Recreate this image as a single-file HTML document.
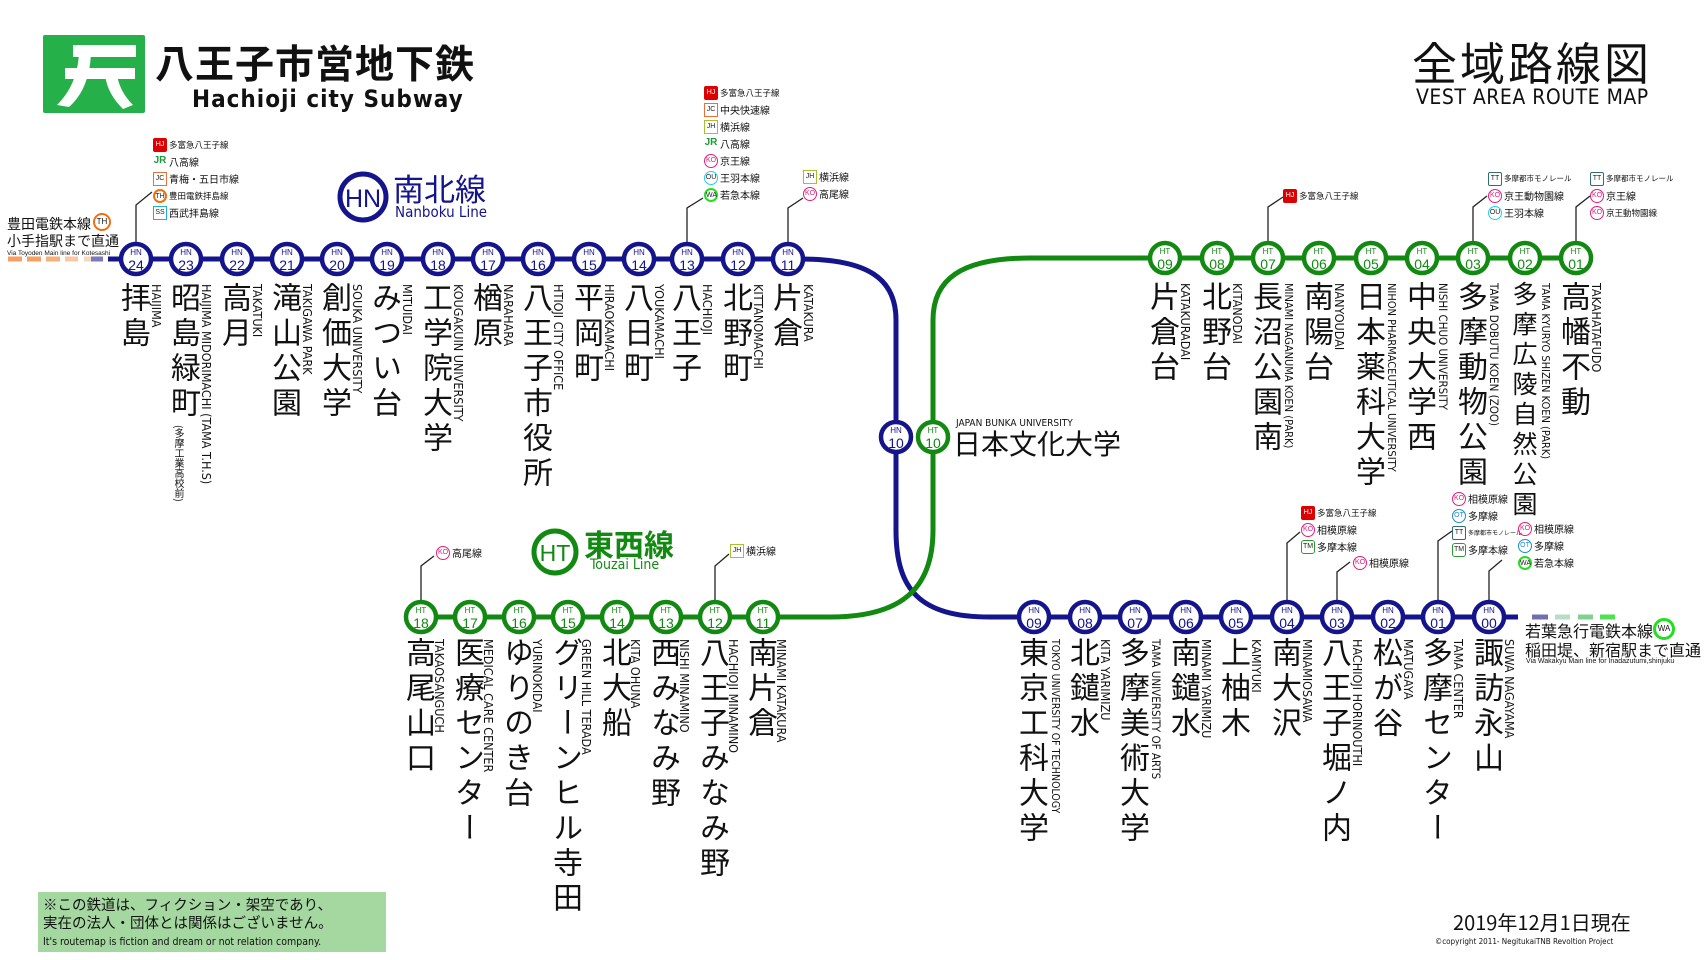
<!DOCTYPE html>
<html><head><meta charset="utf-8">
<style>
*{margin:0;padding:0;box-sizing:border-box}
body{width:1707px;height:960px;background:#fff;position:relative;overflow:hidden;font-family:"Liberation Sans","Noto Sans CJK JP",sans-serif;color:#111}
.a{position:absolute;white-space:nowrap}
.jp{position:absolute;writing-mode:vertical-rl;font-size:30px;line-height:32px;width:32px;letter-spacing:5px;font-family:"Noto Sans CJK JP",sans-serif;color:#111}
.en{position:absolute;writing-mode:vertical-rl;font-size:12.5px;line-height:15px;width:15px;font-family:"DejaVu Sans Condensed","Liberation Sans Narrow",sans-serif;color:#111}
.tr{position:absolute;font-size:10px;line-height:12px;font-family:"Noto Sans CJK JP",sans-serif;white-space:nowrap}
.tr div{height:17px;display:flex;align-items:center;gap:2px}
.b{display:inline-block;width:14px;height:14px;font-size:7px;line-height:11px;text-align:center;font-family:"Liberation Sans",sans-serif;border:1.5px solid;color:#222;flex:none}
.hj{background:#d00;border-color:#d00;color:#fff;border-radius:2px}
.jc{border-color:#e8703a}
.jh{border-color:#a8c030}
.ko{border-color:#e0207f;border-radius:50%;color:#e0207f}
.ou{border-color:#20d0f0;border-radius:50%}
.wa{border-color:#20e020;border-radius:50%;border-width:2px}
.tt{border-color:#336e6a;border-radius:2px}
.tm{border-color:#2a9a2a;border-radius:3px}
.ot{border-color:#1e8ad0;border-radius:50%;color:#1e8ad0}
.th{border-color:#f07010;border-radius:50%;border-width:2px}
.ss{border-color:#20b0d0}
.jr{border:none;color:#1a9a3a;font-weight:bold;font-size:10px}
.s{font-size:8.5px}
</style></head><body>

<!-- header -->
<div class="a" style="left:43px;top:35px;width:102px;height:78px;background:#26b04a;border-radius:2px"></div>
<svg class="a" style="left:43px;top:35px" width="102" height="78"><path d="M30 10 H93 V22 H30Z M22 33 H92 V44 H22Z" fill="#fff"/><path d="M36 14 L48 14 C48 40 40 60 26 72 L14 70 C28 56 36 38 36 14Z M62 40 L74 40 C76 52 82 62 90 70 L80 74 C70 64 64 54 62 40Z" fill="#fff"/></svg>
<div class="a" style="left:155px;top:34px;font-size:39px;font-weight:bold;font-family:'Noto Sans CJK JP',sans-serif;letter-spacing:1px">八王子市営地下鉄</div>
<div class="a" style="left:192px;top:85px;font-size:24px;font-weight:bold;font-family:'DejaVu Sans Condensed',sans-serif;letter-spacing:1px">Hachioji city Subway</div>
<div class="a" style="left:1412px;top:28px;font-size:45px;font-family:'Noto Sans CJK JP',sans-serif;letter-spacing:3px">全域路線図</div>
<div class="a" style="left:1416px;top:85px;font-size:21px;font-family:'Liberation Sans Narrow','DejaVu Sans Condensed',sans-serif;letter-spacing:0.5px">VEST AREA ROUTE MAP</div>

<svg class="a" style="left:0;top:0" width="1707" height="960">
<circle cx="363" cy="197" r="23" fill="#fff" stroke="#14148c" stroke-width="5"/>
<text x="363" y="207" font-size="25" text-anchor="middle" fill="#14148c" font-family="Liberation Sans">HN</text>
<circle cx="555" cy="552" r="21" fill="#fff" stroke="#128a12" stroke-width="5"/>
<text x="555" y="561" font-size="23" text-anchor="middle" fill="#128a12" font-family="Liberation Sans">HT</text>

<g stroke-width="5">
<line x1="8" y1="259" x2="22" y2="259" stroke="#f5a060"/><line x1="27" y1="259" x2="41" y2="259" stroke="#f5a060"/><line x1="46" y1="259" x2="60" y2="259" stroke="#f7b07a"/><line x1="65" y1="259" x2="78" y2="259" stroke="#f8c8a0"/><line x1="84" y1="259" x2="96" y2="259" stroke="#fad8c0"/><line x1="91" y1="259" x2="103" y2="259" stroke="#7a7aba"/><line x1="108" y1="259" x2="120" y2="259" stroke="#14148c"/>
<line x1="1505" y1="617" x2="1518" y2="617" stroke="#14148c"/><line x1="1532" y1="617" x2="1548" y2="617" stroke="#7070b0"/><line x1="1555" y1="617" x2="1570" y2="617" stroke="#b8dcc8"/><line x1="1578" y1="617" x2="1593" y2="617" stroke="#80d090"/><line x1="1600" y1="617" x2="1615" y2="617" stroke="#50e050"/>
</g>
<path d="M120 259 H800 C870 259 896 280 896 320 V530 C896 590 920 617 990 617 H1489" fill="none" stroke="#14148c" stroke-width="5"/>
<path d="M1576 258 H1030 C960 258 933 280 933 320 V530 C933 590 900 617 830 617 H421" fill="none" stroke="#128a12" stroke-width="5"/>

<g stroke="#222" stroke-width="1.3" fill="none">
<path d="M136 243 V205 L152 192"/>
<path d="M687 243 V208 L703 198"/>
<path d="M788 243 V208 L803 198"/>
<path d="M1268 242 V207 L1283 197"/>
<path d="M1473 242 V207 L1487 196"/>
<path d="M1576 242 V207 L1590 196"/>
<path d="M421 601 V566 L434 556"/>
<path d="M715 601 V566 L729 554"/>
<path d="M1287 601 V543 L1300 532"/>
<path d="M1337 601 V572 L1350 562"/>
<path d="M1438 601 V541 L1452 531"/>
<path d="M1489 601 V571 L1502 560"/>
</g>

<g font-family="Liberation Sans" text-anchor="middle">
<g fill="#fff" stroke="#14148c" stroke-width="4.5">
<circle cx="136" cy="259" r="15"/><circle cx="186" cy="259" r="15"/><circle cx="237" cy="259" r="15"/><circle cx="287" cy="259" r="15"/><circle cx="337" cy="259" r="15"/><circle cx="387" cy="259" r="15"/><circle cx="438" cy="259" r="15"/><circle cx="488" cy="259" r="15"/><circle cx="538" cy="259" r="15"/><circle cx="589" cy="259" r="15"/><circle cx="639" cy="259" r="15"/><circle cx="687" cy="259" r="15"/><circle cx="738" cy="259" r="15"/><circle cx="788" cy="259" r="15"/>
<circle cx="896" cy="437" r="15"/>
<circle cx="1034" cy="617" r="15"/><circle cx="1085" cy="617" r="15"/><circle cx="1135" cy="617" r="15"/><circle cx="1186" cy="617" r="15"/><circle cx="1236" cy="617" r="15"/><circle cx="1287" cy="617" r="15"/><circle cx="1337" cy="617" r="15"/><circle cx="1388" cy="617" r="15"/><circle cx="1438" cy="617" r="15"/><circle cx="1489" cy="617" r="15"/>
</g>
<g fill="#fff" stroke="#128a12" stroke-width="4.5">
<circle cx="933" cy="437" r="15"/>
<circle cx="1165" cy="258" r="15"/><circle cx="1217" cy="258" r="15"/><circle cx="1268" cy="258" r="15"/><circle cx="1319" cy="258" r="15"/><circle cx="1371" cy="258" r="15"/><circle cx="1422" cy="258" r="15"/><circle cx="1473" cy="258" r="15"/><circle cx="1525" cy="258" r="15"/><circle cx="1576" cy="258" r="15"/>
<circle cx="421" cy="617" r="15"/><circle cx="470" cy="617" r="15"/><circle cx="519" cy="617" r="15"/><circle cx="568" cy="617" r="15"/><circle cx="617" cy="617" r="15"/><circle cx="666" cy="617" r="15"/><circle cx="715" cy="617" r="15"/><circle cx="763" cy="617" r="15"/>
</g>
<g fill="#14148c">
<g font-size="8"><text x="136" y="255">HN</text><text x="186" y="255">HN</text><text x="237" y="255">HN</text><text x="287" y="255">HN</text><text x="337" y="255">HN</text><text x="387" y="255">HN</text><text x="438" y="255">HN</text><text x="488" y="255">HN</text><text x="538" y="255">HN</text><text x="589" y="255">HN</text><text x="639" y="255">HN</text><text x="687" y="255">HN</text><text x="738" y="255">HN</text><text x="788" y="255">HN</text><text x="896" y="433">HN</text>
<text x="1034" y="613">HN</text><text x="1085" y="613">HN</text><text x="1135" y="613">HN</text><text x="1186" y="613">HN</text><text x="1236" y="613">HN</text><text x="1287" y="613">HN</text><text x="1337" y="613">HN</text><text x="1388" y="613">HN</text><text x="1438" y="613">HN</text><text x="1489" y="613">HN</text></g>
<g font-size="14"><text x="136" y="270">24</text><text x="186" y="270">23</text><text x="237" y="270">22</text><text x="287" y="270">21</text><text x="337" y="270">20</text><text x="387" y="270">19</text><text x="438" y="270">18</text><text x="488" y="270">17</text><text x="538" y="270">16</text><text x="589" y="270">15</text><text x="639" y="270">14</text><text x="687" y="270">13</text><text x="738" y="270">12</text><text x="788" y="270">11</text><text x="896" y="448">10</text>
<text x="1034" y="628">09</text><text x="1085" y="628">08</text><text x="1135" y="628">07</text><text x="1186" y="628">06</text><text x="1236" y="628">05</text><text x="1287" y="628">04</text><text x="1337" y="628">03</text><text x="1388" y="628">02</text><text x="1438" y="628">01</text><text x="1489" y="628">00</text></g>
</g>
<g fill="#128a12">
<g font-size="8"><text x="933" y="433">HT</text><text x="1165" y="254">HT</text><text x="1217" y="254">HT</text><text x="1268" y="254">HT</text><text x="1319" y="254">HT</text><text x="1371" y="254">HT</text><text x="1422" y="254">HT</text><text x="1473" y="254">HT</text><text x="1525" y="254">HT</text><text x="1576" y="254">HT</text>
<text x="421" y="613">HT</text><text x="470" y="613">HT</text><text x="519" y="613">HT</text><text x="568" y="613">HT</text><text x="617" y="613">HT</text><text x="666" y="613">HT</text><text x="715" y="613">HT</text><text x="763" y="613">HT</text></g>
<g font-size="14"><text x="933" y="448">10</text><text x="1165" y="269">09</text><text x="1217" y="269">08</text><text x="1268" y="269">07</text><text x="1319" y="269">06</text><text x="1371" y="269">05</text><text x="1422" y="269">04</text><text x="1473" y="269">03</text><text x="1525" y="269">02</text><text x="1576" y="269">01</text>
<text x="421" y="628">18</text><text x="470" y="628">17</text><text x="519" y="628">16</text><text x="568" y="628">15</text><text x="617" y="628">14</text><text x="666" y="628">13</text><text x="715" y="628">12</text><text x="763" y="628">11</text></g>
</g>
</g>
</svg>

<div class="a" style="left:393px;top:170px;font-size:31px;color:#14148c;font-family:'Noto Sans CJK JP',sans-serif;line-height:36px">南北線</div>
<div class="a" style="left:395px;top:203px;font-size:15px;color:#14148c;font-family:'DejaVu Sans Condensed',sans-serif">Nanboku Line</div>
<div class="a" style="left:584px;top:525px;font-size:30px;color:#128a12;font-weight:bold;font-family:'Noto Sans CJK JP',sans-serif;line-height:36px">東西線</div>
<div class="a" style="left:590px;top:557px;font-size:14px;color:#128a12;font-family:'DejaVu Sans Condensed',sans-serif">Touzai Line</div>

<div class="a" style="left:7px;top:216px;font-size:14px;line-height:17px;font-family:'Noto Sans CJK JP',sans-serif">豊田電鉄本線<br>小手指駅まで直通</div>
<div class="a" style="left:93px;top:213px;width:18px;height:18px;border:2.5px solid #f07010;border-radius:50%;font-size:8px;text-align:center;line-height:13px">TH</div>
<div class="a" style="left:7px;top:250px;font-size:6.5px">Via Toyoden Main line for Kotesashi</div>
<div class="a" style="left:1525px;top:621px;font-size:16px;line-height:19px;font-family:'Noto Sans CJK JP',sans-serif">若葉急行電鉄本線<br>稲田堤、新宿駅まで直通</div>
<div class="a" style="left:1653px;top:618px;width:22px;height:22px;border:3px solid #20e020;border-radius:50%;font-size:8px;text-align:center;line-height:16px">WA</div>
<div class="a" style="left:1526px;top:658px;font-size:7px">Via Wakakyu Main line for Inadazutumi,shinjuku</div>

<div class="a" style="left:956px;top:418px;font-size:10px;font-family:'DejaVu Sans Condensed',sans-serif">JAPAN BUNKA UNIVERSITY</div>
<div class="a" style="left:953px;top:425px;font-size:28px;font-family:'Noto Sans CJK JP',sans-serif;line-height:36px">日本文化大学</div>

<div class="jp" style="left:120px;top:282px">拝島</div><div class="en" style="left:149px;top:284px">HAIJIMA</div>
<div class="jp" style="left:170px;top:282px">昭島緑町</div><div class="en" style="left:199px;top:284px">HAIJIMA MIDORIMACHI (TAMA T.H.S)</div><div class="en" style="left:172px;top:425px;font-size:10px;font-family:'Noto Sans CJK JP',sans-serif">(多摩工業高校前)</div>
<div class="jp" style="left:221px;top:282px">高月</div><div class="en" style="left:250px;top:284px">TAKATUKI</div>
<div class="jp" style="left:271px;top:282px">滝山公園</div><div class="en" style="left:300px;top:284px">TAKIGAWA PARK</div>
<div class="jp" style="left:321px;top:282px">創価大学</div><div class="en" style="left:350px;top:284px">SOUKA UNIVERSITY</div>
<div class="jp" style="left:371px;top:282px">みつい台</div><div class="en" style="left:400px;top:284px">MITUIDAI</div>
<div class="jp" style="left:422px;top:282px">工学院大学</div><div class="en" style="left:451px;top:284px">KOUGAKUIN UNIVERSITY</div>
<div class="jp" style="left:472px;top:282px">楢原</div><div class="en" style="left:501px;top:284px">NARAHARA</div>
<div class="jp" style="left:522px;top:282px">八王子市役所</div><div class="en" style="left:551px;top:284px">HTIOJI CITY OFFICE</div>
<div class="jp" style="left:573px;top:282px">平岡町</div><div class="en" style="left:602px;top:284px">HIRAOKAMACHI</div>
<div class="jp" style="left:623px;top:282px">八日町</div><div class="en" style="left:652px;top:284px">YOUKAMACHI</div>
<div class="jp" style="left:671px;top:282px">八王子</div><div class="en" style="left:700px;top:284px">HACHIOJI</div>
<div class="jp" style="left:722px;top:282px">北野町</div><div class="en" style="left:751px;top:284px">KITTANOMACHI</div>
<div class="jp" style="left:772px;top:282px">片倉</div><div class="en" style="left:801px;top:284px">KATAKURA</div>

<div class="jp" style="left:1149px;top:281px">片倉台</div><div class="en" style="left:1178px;top:283px">KATAKURADAI</div>
<div class="jp" style="left:1201px;top:281px">北野台</div><div class="en" style="left:1230px;top:283px">KITANODAI</div>
<div class="jp" style="left:1252px;top:281px">長沼公園南</div><div class="en" style="left:1281px;top:283px;font-size:11px">MINAMI NAGANUMA KOEN (PARK)</div>
<div class="jp" style="left:1303px;top:281px">南陽台</div><div class="en" style="left:1332px;top:283px">NANYOUDAI</div>
<div class="jp" style="left:1355px;top:281px">日本薬科大学</div><div class="en" style="left:1384px;top:283px;font-size:11px">NIHON PHARMACEUTICAL UNIVERSITY</div>
<div class="jp" style="left:1406px;top:281px">中央大学西</div><div class="en" style="left:1435px;top:283px;font-size:11.5px">NISHI CHUO UNIVERSITY</div>
<div class="jp" style="left:1457px;top:281px">多摩動物公園</div><div class="en" style="left:1486px;top:283px;font-size:11.5px">TAMA DOBUTU KOEN (ZOO)</div>
<div class="jp" style="left:1509px;top:281px;font-size:25px;letter-spacing:5px">多摩広陵自然公園</div><div class="en" style="left:1538px;top:283px;font-size:11px">TAMA KYURYO SHIZEN KOEN (PARK)</div>
<div class="jp" style="left:1560px;top:281px">高幡不動</div><div class="en" style="left:1589px;top:283px">TAKAHATAFUDO</div>

<div class="jp" style="left:405px;top:637px">高尾山口</div><div class="en" style="left:432px;top:639px">TAKAOSANGUCH</div>
<div class="jp" style="left:454px;top:637px">医療センター</div><div class="en" style="left:481px;top:639px">MEDICAL CARE CENTER</div>
<div class="jp" style="left:503px;top:637px">ゆりのき台</div><div class="en" style="left:530px;top:639px">YURINOKIDAI</div>
<div class="jp" style="left:552px;top:637px">グリーンヒル寺田</div><div class="en" style="left:579px;top:639px">GREEN HILL TERADA</div>
<div class="jp" style="left:601px;top:637px">北大船</div><div class="en" style="left:628px;top:639px">KITA OHUNA</div>
<div class="jp" style="left:650px;top:637px">西みなみ野</div><div class="en" style="left:677px;top:639px">NISHI MINAMINO</div>
<div class="jp" style="left:699px;top:637px">八王子みなみ野</div><div class="en" style="left:726px;top:639px">HACHIOJI MINAMINO</div>
<div class="jp" style="left:747px;top:637px">南片倉</div><div class="en" style="left:774px;top:639px">MINAMI KATAKURA</div>

<div class="jp" style="left:1018px;top:637px">東京工科大学</div><div class="en" style="left:1047px;top:639px;font-size:10.5px">TOKYO UNIVERSITY OF TECHNOLOGY</div>
<div class="jp" style="left:1069px;top:637px">北鑓水</div><div class="en" style="left:1098px;top:639px">KITA YARIMIZU</div>
<div class="jp" style="left:1119px;top:637px">多摩美術大学</div><div class="en" style="left:1148px;top:639px;font-size:11.5px">TAMA UNIVERSITY OF ARTS</div>
<div class="jp" style="left:1170px;top:637px">南鑓水</div><div class="en" style="left:1199px;top:639px">MINAMI YARIMIZU</div>
<div class="jp" style="left:1220px;top:637px">上柚木</div><div class="en" style="left:1249px;top:639px">KAMIYUKI</div>
<div class="jp" style="left:1271px;top:637px">南大沢</div><div class="en" style="left:1300px;top:639px">MINAMIOSAWA</div>
<div class="jp" style="left:1321px;top:637px">八王子堀ノ内</div><div class="en" style="left:1350px;top:639px">HACHIOJI HORINOUTHI</div>
<div class="jp" style="left:1372px;top:637px">松が谷</div><div class="en" style="left:1401px;top:639px">MATUGAYA</div>
<div class="jp" style="left:1422px;top:637px">多摩センター</div><div class="en" style="left:1451px;top:639px">TAMA CENTER</div>
<div class="jp" style="left:1473px;top:637px">諏訪永山</div><div class="en" style="left:1502px;top:639px">SUWA NAGAYAMA</div>

<div class="tr" style="left:153px;top:136px"><div><span class="b hj">HJ</span><span class="s">多富急八王子線</span></div><div><span class="b jr">JR</span>八高線</div><div><span class="b jc">JC</span>青梅・五日市線</div><div><span class="b th">TH</span><span class="s">豊田電鉄拝島線</span></div><div><span class="b ss">SS</span>西武拝島線</div></div>
<div class="tr" style="left:704px;top:84px"><div><span class="b hj">HJ</span><span class="s">多富急八王子線</span></div><div><span class="b jc">JC</span>中央快速線</div><div><span class="b jh">JH</span>横浜線</div><div><span class="b jr">JR</span>八高線</div><div><span class="b ko">KO</span>京王線</div><div><span class="b ou">OU</span>王羽本線</div><div><span class="b wa">WA</span>若急本線</div></div>
<div class="tr" style="left:803px;top:168px"><div><span class="b jh">JH</span>横浜線</div><div><span class="b ko">KO</span>高尾線</div></div>
<div class="tr" style="left:1283px;top:187px"><div><span class="b hj">HJ</span><span class="s">多富急八王子線</span></div></div>
<div class="tr" style="left:1488px;top:170px"><div><span class="b tt">TT</span><span class="s" style="font-size:7.5px">多摩都市モノレール</span></div><div><span class="b ko">KO</span>京王動物園線</div><div><span class="b ou">OU</span>王羽本線</div></div>
<div class="tr" style="left:1590px;top:170px"><div><span class="b tt">TT</span><span class="s" style="font-size:7.5px">多摩都市モノレール</span></div><div><span class="b ko">KO</span>京王線</div><div><span class="b ko">KO</span><span class="s">京王動物園線</span></div></div>
<div class="tr" style="left:436px;top:544px"><div><span class="b ko">KO</span>高尾線</div></div>
<div class="tr" style="left:730px;top:542px"><div><span class="b jh">JH</span>横浜線</div></div>
<div class="tr" style="left:1301px;top:504px"><div><span class="b hj">HJ</span><span class="s">多富急八王子線</span></div><div><span class="b ko">KO</span>相模原線</div><div><span class="b tm">TM</span>多摩本線</div></div>
<div class="tr" style="left:1353px;top:554px"><div><span class="b ko">KO</span>相模原線</div></div>
<div class="tr" style="left:1452px;top:490px"><div><span class="b ko">KO</span>相模原線</div><div><span class="b ot">OT</span>多摩線</div><div><span class="b tt">TT</span><span style="font-size:6px">多摩都市モノレール</span></div><div><span class="b tm">TM</span>多摩本線</div></div>
<div class="tr" style="left:1518px;top:520px"><div><span class="b ko">KO</span>相模原線</div><div><span class="b ot">OT</span>多摩線</div><div><span class="b wa">WA</span>若急本線</div></div>

<div class="a" style="left:38px;top:892px;width:348px;height:60px;background:#a5d8a0"></div>
<div class="a" style="left:43px;top:896px;font-size:14.5px;line-height:18px;font-family:'Noto Sans CJK JP',sans-serif">※この鉄道は、フィクション・架空であり、<br>実在の法人・団体とは関係はございません。</div>
<div class="a" style="left:43px;top:936px;font-size:10.5px;font-family:'DejaVu Sans Condensed',sans-serif">It's routemap is fiction and dream or not relation company.</div>
<div class="a" style="left:1453px;top:909px;font-size:20px;font-family:'Noto Sans CJK JP',sans-serif;line-height:26px">2019年12月1日現在</div>
<div class="a" style="left:1435px;top:937px;font-size:8px;font-family:'DejaVu Sans Condensed',sans-serif">©copyright 2011- NegitukaiTNB Revoltion Project</div>
</body></html>
